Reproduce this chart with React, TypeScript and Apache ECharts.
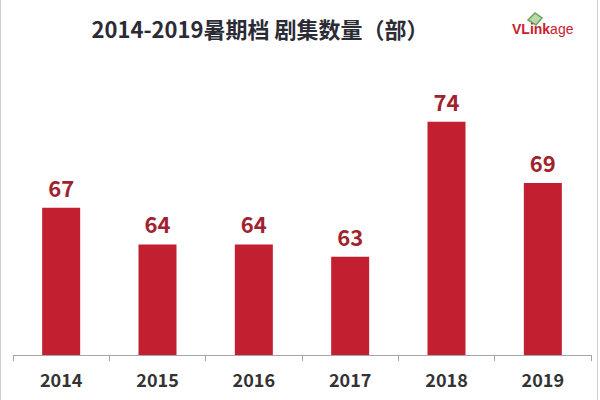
import React, { useEffect, useRef } from "react";
import * as echarts from "echarts";

const years = ["2014", "2015", "2016", "2017", "2018", "2019"];
const counts = [67, 64, 64, 63, 74, 69];
const titleText = "2014-2019暑期档 剧集数量（部）";

export default function App() {
  const ref = useRef<HTMLDivElement>(null);
  useEffect(() => {
    if (!ref.current) return;
    const chart = echarts.init(ref.current, undefined, { renderer: "svg" });
    chart.setOption({
      animation: false,
      backgroundColor: "#ffffff",
      title: {
        text: titleText,
        left: 255,
        textAlign: "center",
        top: 12,
        textStyle: {
          fontFamily: "Noto Sans CJK SC",
          fontWeight: "bold",
          fontSize: 22,
          color: "#2b2b36",
        },
      },
      grid: { left: 13, right: 9, top: 48, bottom: 45, containLabel: false },
      xAxis: {
        type: "category",
        data: years,
        axisLine: { lineStyle: { color: "#a6a6a6", width: 1 } },
        axisTick: { show: true, length: 6, lineStyle: { color: "#a6a6a6" } },
        axisLabel: {
          margin: 15,
          fontFamily: "Noto Sans CJK SC",
          fontWeight: "bold",
          fontSize: 18,
          color: "#333333",
        },
      },
      yAxis: {
        type: "value",
        min: 55,
        max: 80,
        show: false,
        splitLine: { show: false },
      },
      series: [
        {
          type: "bar",
          data: counts,
          barWidth: 38,
          itemStyle: { color: "#c21f30" },
          label: {
            show: true,
            position: "top",
            distance: 10,
            fontFamily: "Noto Sans CJK SC",
            fontWeight: "bold",
            fontSize: 22,
            color: "#a1222f",
          },
        },
      ],
      graphic: [
        {
          type: "rect",
          shape: { x: 0.5, y: -2, width: 597, height: 404 },
          style: { fill: "none", stroke: "#cfcfcf", lineWidth: 1 },
          silent: true,
        },
        {
          type: "polygon",
          shape: { points: [[528, 20], [535, 13], [542, 18], [536, 25]] },
          style: { fill: "#b9d9a8", stroke: "#6aa55a", lineWidth: 1.5 },
        },
        {
          type: "text",
          left: 512,
          top: 22,
          style: {
            rich: {
              a: { fontFamily: "Liberation Sans", fontWeight: "bold", fontSize: 14, fill: "#c8202f" },
              b: { fontFamily: "Liberation Sans", fontWeight: "normal", fontSize: 14, fill: "#c8202f" },
            },
            text: "{a|VLink}{b|age}",
          },
        },
      ],
    });
    return () => chart.dispose();
  }, []);
  return (
    <div
      ref={ref}
      style={{ position: "fixed", left: 0, top: 0, width: 600, height: 400 }}
    />
  );
}
